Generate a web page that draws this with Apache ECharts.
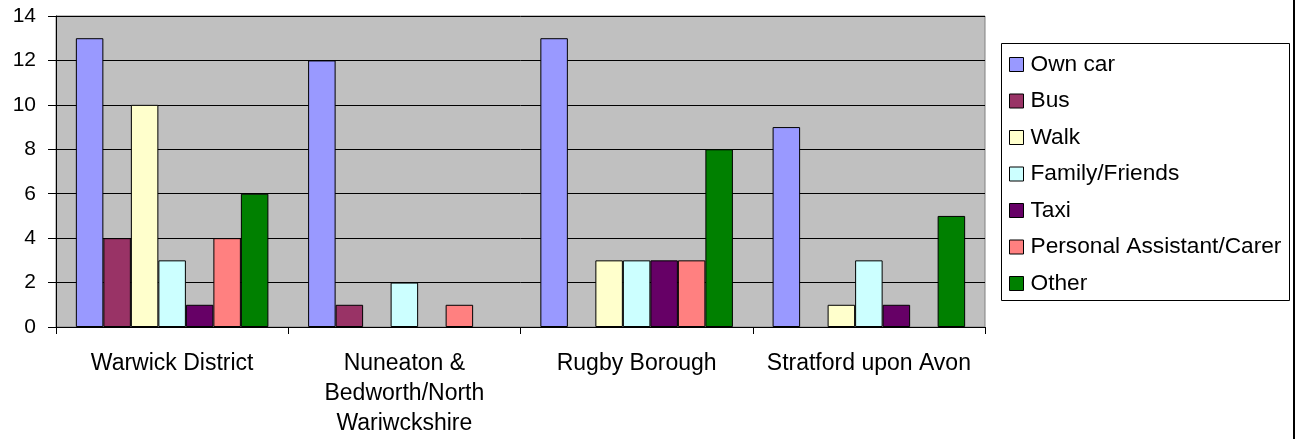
<!DOCTYPE html>
<html>
<head>
<meta charset="utf-8">
<script src="https://cdn.jsdelivr.net/npm/echarts@6/dist/echarts.min.js"></script>
<style>
  html, body { margin: 0; padding: 0; background: #fff; }
  #chart { width: 1297px; height: 439px; }
</style>
</head>
<body>
<div id="chart"></div>
<script>
// Travel mode counts by district
const districts = ['Warwick District', 'Nuneaton &\nBedworth/North\nWariwckshire', 'Rugby Borough', 'Stratford upon Avon'];
const ownCar = [13, 12, 13, 9];
const bus = [4, 1, 0, 0];
const walk = [10, 0, 3, 1];
const familyFriends = [3, 2, 3, 3];
const taxi = [1, 0, 3, 1];
const personalAssistant = [4, 1, 3, 0];
const other = [6, 0, 8, 5];
const yTicks = [0, 2, 4, 6, 8, 10, 12, 14];

const seriesDefs = [
  { name: 'Own car', data: ownCar, color: '#9999FF' },
  { name: 'Bus', data: bus, color: '#993366' },
  { name: 'Walk', data: walk, color: '#FFFFCC' },
  { name: 'Family/Friends', data: familyFriends, color: '#CCFFFF' },
  { name: 'Taxi', data: taxi, color: '#660066' },
  { name: 'Personal Assistant/Carer', data: personalAssistant, color: '#FF8080' },
  { name: 'Other', data: other, color: '#008000' }
];

const FONT = '"Liberation Sans", Arial, sans-serif';
const chart = echarts.init(document.getElementById('chart'), null, { renderer: 'canvas' });

chart.setOption({
  animation: false,
  backgroundColor: '#ffffff',
  textStyle: { fontFamily: FONT, color: '#000' },
  grid: {
    left: 56, right: 312, top: 16, bottom: 112,
    show: true, backgroundColor: '#C0C0C0', borderColor: '#808080', borderWidth: 1
  },
  legend: {
    orient: 'vertical',
    left: 1009, top: 53,
    padding: 0,
    itemWidth: 14, itemHeight: 14,
    itemGap: 13.5,
    icon: 'rect',
    itemStyle: { borderColor: '#000', borderWidth: 1 },
    textStyle: { fontFamily: FONT, fontSize: 22.7, color: '#000', lineHeight: 22, padding: [0, 0, 0, 2] },
    data: seriesDefs.map(s => s.name)
  },
  xAxis: {
    type: 'category',
    data: districts,
    axisLine: { lineStyle: { color: '#000', width: 1 } },
    axisTick: { show: true, length: 7, lineStyle: { color: '#000' } },
    axisLabel: { fontFamily: FONT, fontSize: 23, color: '#000', margin: 22, lineHeight: 30, interval: 0 },
    splitLine: { show: false }
  },
  yAxis: {
    type: 'value',
    min: yTicks[0], max: yTicks[yTicks.length - 1], interval: 2,
    axisLine: { show: true, lineStyle: { color: '#000', width: 1 } },
    axisTick: { show: true, length: 8, inside: false, lineStyle: { color: '#000' } },
    axisLabel: { fontFamily: FONT, fontSize: 21, color: '#000', margin: 20 },
    splitLine: { show: true, lineStyle: { color: '#000', width: 1 } }
  },
  series: seriesDefs.map(s => ({
    name: s.name,
    type: 'bar',
    data: s.data.map(v => (v === 0 ? null : v)),
    barGap: '0%',
    barCategoryGap: '17.1%',
    itemStyle: { color: s.color, borderColor: '#000', borderWidth: 1 },
    emphasis: { disabled: true }
  })),
  graphic: [
    {
      type: 'rect',
      shape: { x: 1001.5, y: 43.5, width: 288, height: 257 },
      style: { fill: 'rgba(0,0,0,0)', stroke: '#000', lineWidth: 1 },
      z: -1
    },
    {
      type: 'line',
      shape: { x1: 1294, y1: 0, x2: 1294, y2: 439 },
      style: { stroke: '#000', lineWidth: 2 }
    }
  ]
});
</script>
</body>
</html>
